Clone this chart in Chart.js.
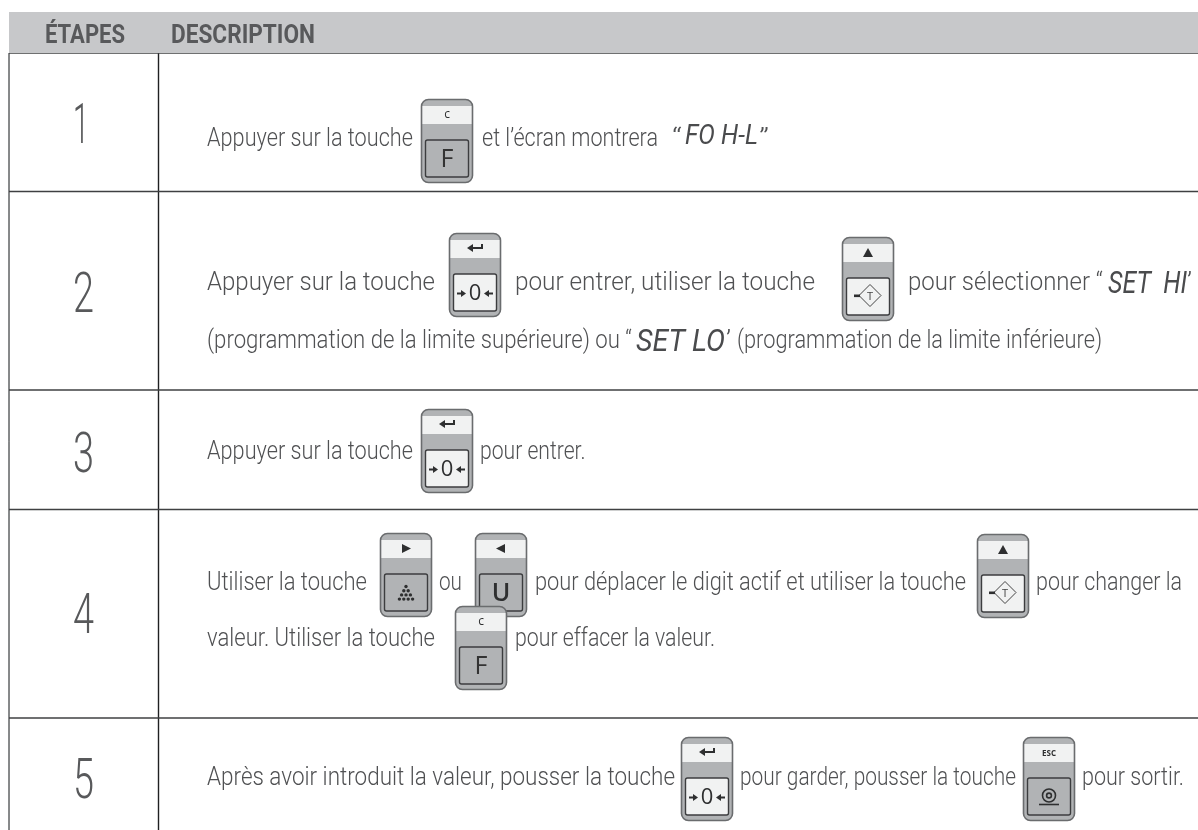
<!DOCTYPE html>
<html lang="fr"><head><meta charset="utf-8">
<style>html,body{margin:0;padding:0;background:#fff}canvas{display:block}</style>
<script src="https://cdn.jsdelivr.net/npm/chart.js@4"></script></head>
<body><canvas id="c" width="1198" height="830"></canvas>
<script>
const headers=[["ÉTAPES",45,125],["DESCRIPTION",171,315]];
const rowEdges=[53,191.5,390,509.5,718];
const columnEdges=[9,158.5];
const steps=[["1",73,89,143],["2",73,94,312],["3",73,94,472],["4",73,94,633],["5",73,94,798]];
const lines=[
["Appuyer sur la touche",207,413,145.5],["et l’écran montrera",482,658,145.5],["“",672,682,145.5],["”",759,769,145.5],
["Appuyer sur la touche",207,435,290],["pour entrer, utiliser la touche",515,815,290],["pour sélectionner “",908,1103,290],["’",1187,1192,290],
["(programmation de la limite supérieure) ou “",207,632,347.5],["’",726,731,347.5],["(programmation de la limite inférieure)",737,1102,347.5],
["Appuyer sur la touche",207,413,459],["pour entrer.",480,585.5,459],
["Utiliser la touche",207,367,590],["ou",439,462,590],["pour déplacer le digit actif et utiliser la touche",535,966,590],["pour changer la",1036,1182,590],
["valeur. Utiliser la touche",207,435,646],["pour effacer la valeur.",515,715,646],
["Après avoir introduit la valeur, pousser la touche",207,675,785],["pour garder, pousser la touche",740,1016,785],["pour sortir.",1082,1184,785]];
const displayTexts=[["FO H-L",685,758,144,"27px"],["SET  HI",1108,1187,293,"31px"],["SET LO",636,725,351,"31px"]];
const keys=[["c","F",421,99,false],["enter","0",449,233,true],["up","T",842,237,true],["enter","0",421,409,true],
["right","dots",380,533,false],["left","U",475,533,false],["up","T",977,534,true],["c","F",455,606,false],
["enter","0",681,737,true],["ESC","target",1023,737,false]];

const DARK="#58595b",BODY="#b1b3b5",PALE="#f1f2f2";
function fit(ctx,t,x0,x1,y,font,color){ctx.save();ctx.font=font;ctx.fillStyle=color;ctx.textBaseline="alphabetic";
 const w=ctx.measureText(t).width;ctx.translate(x0,y);ctx.scale((x1-x0)/w,1);ctx.fillText(t,0,0);ctx.restore();}
function rr(ctx,x,y,w,h,r){ctx.beginPath();ctx.roundRect(x,y,w,h,r);}
function poly(ctx,p){ctx.beginPath();p.forEach((q,i)=>i?ctx.lineTo(q[0],q[1]):ctx.moveTo(q[0],q[1]));ctx.closePath();ctx.fill();}
function key(ctx,k,px,py){const [top,face,,,light]=k,x=px,y=py,W=52,H=84;
 ctx.save();ctx.fillStyle=BODY;ctx.strokeStyle="#6a6c6e";ctx.lineWidth=1.6;rr(ctx,x+.5,y+.5,W-1,H-1,7);ctx.fill();ctx.stroke();
 ctx.fillStyle=PALE;ctx.beginPath();ctx.rect(x+1.5,y+7,W-3,18);ctx.fill();
 ctx.fillStyle=light?PALE:BODY;ctx.strokeStyle="#3c3d3f";ctx.lineWidth=1.4;rr(ctx,x+4.5,y+41,W-9,37,2);ctx.fill();ctx.stroke();
 const cx=x+W/2;ctx.fillStyle="#2e2f30";ctx.strokeStyle="#2e2f30";
 if(top==="c"){ctx.font="12px 'Open Sans'";ctx.textAlign="center";ctx.fillText("c",cx,y+19);}
 if(top==="ESC"){ctx.font="bold 8px 'Open Sans'";ctx.textAlign="center";ctx.fillText("ESC",cx,y+19);}
 if(top==="enter"){ctx.lineWidth=2;ctx.beginPath();ctx.moveTo(cx+7,y+11);ctx.lineTo(cx+7,y+15);ctx.lineTo(cx-3,y+15);ctx.stroke();poly(ctx,[[cx-8,y+15],[cx-2,y+11],[cx-2,y+19]]);}
 if(top==="up")poly(ctx,[[cx,y+11],[cx+5,y+20],[cx-5,y+20]]);
 if(top==="right")poly(ctx,[[cx-4,y+11],[cx+5,y+15.5],[cx-4,y+20]]);
 if(top==="left")poly(ctx,[[cx+4,y+11],[cx-5,y+15.5],[cx+4,y+20]]);
 const my=y+59.5;ctx.textAlign="center";ctx.textBaseline="middle";
 if(face==="F"){ctx.font="25px 'Open Sans'";ctx.fillStyle="#333";ctx.fillText("F",cx,my+1);}
 if(face==="U"){ctx.font="600 25px 'Open Sans'";ctx.fillStyle="#2e2f30";ctx.fillText("U",cx,my+1);}
 if(face==="0"){ctx.font="22px 'Open Sans'";ctx.fillStyle="#2e2f30";ctx.fillText("0",cx,my+1);
  poly(ctx,[[cx-9,my+1],[cx-14,my-2.5],[cx-14,my+4.5]]);ctx.fillRect(cx-18,my,5,2);
  poly(ctx,[[cx+9,my+1],[cx+14,my-2.5],[cx+14,my+4.5]]);ctx.fillRect(cx+13,my,5,2);}
 if(face==="T"){ctx.lineWidth=1;ctx.strokeStyle="#444";ctx.beginPath();ctx.moveTo(cx+2,my-12);ctx.lineTo(cx+13,my-1);ctx.lineTo(cx+2,my+10);ctx.lineTo(cx-9,my-1);ctx.closePath();ctx.stroke();
  ctx.font="11px 'Open Sans'";ctx.fillStyle="#444";ctx.fillText("T",cx+2,my);ctx.fillStyle="#2e2f30";ctx.fillRect(cx-14,my-2,6,2.6);}
 if(face==="dots"){ctx.fillStyle="#2e2f30";for(let r=0;r<4;r++)for(let i=0;i<=r;i++){ctx.beginPath();ctx.arc(cx+(i-r/2)*4.4,my-6+r*4.2,1.7,0,7);ctx.fill();}}
 if(face==="target"){ctx.lineWidth=1.6;ctx.beginPath();ctx.arc(cx,my-1,6.5,0,7);ctx.stroke();ctx.beginPath();ctx.arc(cx,my-1,2.4,0,7);ctx.stroke();ctx.beginPath();ctx.moveTo(cx-10,my+8);ctx.lineTo(cx+10,my+8);ctx.stroke();}
 ctx.restore();}

const tablePlugin={id:"table",afterDatasetsDraw(chart){const c=chart.ctx,X=chart.scales.x,Y=chart.scales.y,px=v=>X.getPixelForValue(v),py=v=>Y.getPixelForValue(v);
 headers.forEach(h=>fit(c,h[0],px(h[1]),px(h[2]),py(42.7),"bold 25px Roboto",DARK));
 steps.forEach(s=>fit(c,s[0],px(s[1]),px(s[2]),py(s[3]),"300 56px Roboto","#58595b"));
 lines.forEach(l=>fit(c,l[0],px(l[1]),px(l[2]),py(l[3]),"300 26px Roboto","#505153"));
 displayTexts.forEach(l=>fit(c,l[0],px(l[1]),px(l[2]),py(l[3]),"italic 400 "+l[4]+" Roboto","#4a4b4d"));
 keys.forEach(k=>key(c,k,px(k[2]),py(k[3])));
}};
const rule=(pts,color,w)=>({data:pts,showLine:true,borderColor:color,borderWidth:w,pointRadius:0,borderCapStyle:"butt"});
const datasets=[rule([{x:columnEdges[0],y:32.5},{x:1198,y:32.5}],"#c7c8ca",41)];
rowEdges.forEach(y=>datasets.push(rule([{x:columnEdges[0],y},{x:1198,y}],"#3f4042",1.4)));
datasets.push(rule([{x:columnEdges[0],y:53},{x:columnEdges[0],y:830}],"#77787a",1));
datasets.push(rule([{x:columnEdges[1],y:53},{x:columnEdges[1],y:830}],"#1f2022",1.4));
new Chart(document.getElementById("c"),{type:"scatter",data:{datasets},plugins:[tablePlugin],options:{responsive:false,animation:false,
 layout:{padding:0},plugins:{legend:{display:false},tooltip:{enabled:false}},
 scales:{x:{type:"linear",min:0,max:1198,display:false},y:{type:"linear",min:0,max:830,reverse:true,display:false}}}});
</script></body></html>
